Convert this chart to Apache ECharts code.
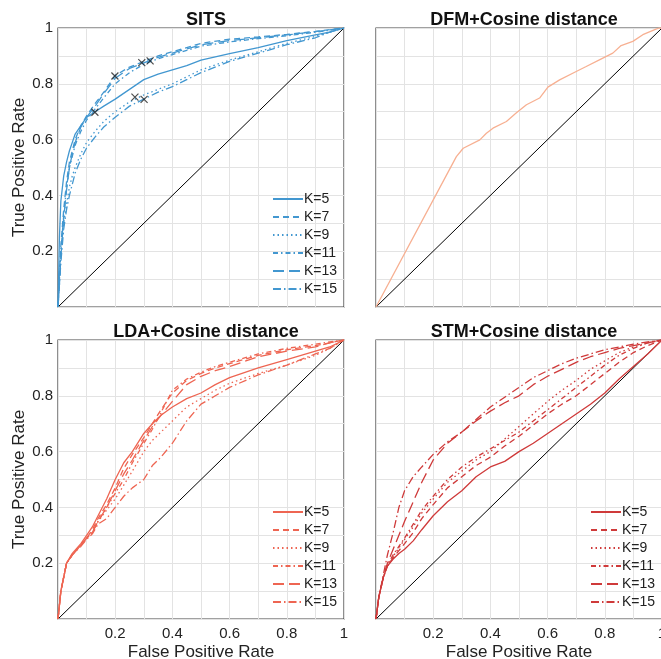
<!DOCTYPE html>
<html>
<head>
<meta charset="utf-8">
<script src="https://cdn.jsdelivr.net/npm/echarts@6/dist/echarts.min.js"></script>
<style>
  html, body { margin: 0; padding: 0; background: #fff; }
  #roc { width: 661px; height: 659px; }
</style>
</head>
<body>
<div id="roc"></div>
<script>
// ---- data ----
const kNames = ["K=5", "K=7", "K=9", "K=11", "K=13", "K=15"];

// SITS
const sitsFpr = [0, 0.005, 0.01, 0.02, 0.03, 0.04, 0.05, 0.06, 0.08, 0.1, 0.13, 0.16, 0.2, 0.25, 0.3, 0.35, 0.4, 0.45, 0.5, 0.6, 0.7, 0.8, 0.9, 0.95, 1];
const sitsK5 = [0, 0.25, 0.38, 0.47, 0.52, 0.56, 0.59, 0.62, 0.65, 0.68, 0.70, 0.72, 0.745, 0.78, 0.815, 0.835, 0.85, 0.865, 0.885, 0.908, 0.93, 0.955, 0.975, 0.985, 1];
const sitsK7 = [0, 0.12, 0.22, 0.35, 0.45, 0.52, 0.56, 0.60, 0.65, 0.685, 0.73, 0.77, 0.83, 0.86, 0.88, 0.90, 0.915, 0.93, 0.945, 0.96, 0.968, 0.977, 0.988, 0.994, 1];
const sitsK9 = [0, 0.10, 0.20, 0.30, 0.37, 0.43, 0.47, 0.50, 0.55, 0.59, 0.63, 0.665, 0.70, 0.735, 0.76, 0.78, 0.80, 0.825, 0.85, 0.885, 0.915, 0.945, 0.97, 0.985, 1];
const sitsK11 = [0, 0.10, 0.20, 0.33, 0.43, 0.50, 0.54, 0.58, 0.63, 0.67, 0.71, 0.75, 0.80, 0.84, 0.87, 0.89, 0.905, 0.92, 0.935, 0.95, 0.962, 0.972, 0.985, 0.992, 1];
const sitsK13 = [0, 0.08, 0.18, 0.32, 0.42, 0.50, 0.55, 0.59, 0.645, 0.68, 0.72, 0.765, 0.82, 0.855, 0.875, 0.895, 0.91, 0.925, 0.94, 0.955, 0.965, 0.975, 0.987, 0.993, 1];
const sitsK15 = [0, 0.08, 0.16, 0.28, 0.35, 0.40, 0.44, 0.48, 0.53, 0.57, 0.61, 0.645, 0.68, 0.72, 0.745, 0.77, 0.79, 0.815, 0.84, 0.88, 0.91, 0.94, 0.965, 0.985, 1];
const sitsMarkFpr = [0.129, 0.199, 0.293, 0.322, 0.269, 0.301];
const sitsMarkTpr = [0.698, 0.828, 0.876, 0.882, 0.752, 0.744];

// DFM
const dfmFpr = [0, 0.281, 0.305, 0.363, 0.386, 0.409, 0.456, 0.49, 0.526, 0.572, 0.601, 0.642, 0.70, 0.735, 0.781, 0.828, 0.857, 0.898, 0.933, 0.979, 0.99, 1];
const dfmTpr = [0, 0.539, 0.569, 0.599, 0.623, 0.641, 0.665, 0.695, 0.725, 0.749, 0.788, 0.814, 0.844, 0.862, 0.886, 0.91, 0.937, 0.952, 0.976, 0.996, 1, 1];

// LDA
const ldaFpr = [0, 0.01, 0.03, 0.05, 0.08, 0.1, 0.12, 0.14, 0.17, 0.2, 0.23, 0.26, 0.3, 0.33, 0.36, 0.4, 0.45, 0.5, 0.55, 0.6, 0.7, 0.8, 0.9, 0.95, 1];
const ldaK5 = [0, 0.10, 0.20, 0.235, 0.27, 0.30, 0.33, 0.37, 0.43, 0.50, 0.56, 0.60, 0.665, 0.70, 0.73, 0.76, 0.79, 0.81, 0.84, 0.865, 0.90, 0.93, 0.96, 0.975, 1];
const ldaK7 = [0, 0.10, 0.20, 0.23, 0.265, 0.29, 0.32, 0.36, 0.41, 0.47, 0.54, 0.59, 0.65, 0.70, 0.75, 0.81, 0.855, 0.88, 0.90, 0.915, 0.945, 0.965, 0.98, 0.99, 1];
const ldaK9 = [0, 0.10, 0.20, 0.23, 0.265, 0.29, 0.31, 0.35, 0.39, 0.43, 0.48, 0.53, 0.60, 0.64, 0.67, 0.71, 0.76, 0.79, 0.82, 0.845, 0.88, 0.91, 0.945, 0.97, 1];
const ldaK11 = [0, 0.10, 0.20, 0.23, 0.265, 0.29, 0.31, 0.35, 0.40, 0.45, 0.50, 0.56, 0.63, 0.68, 0.74, 0.82, 0.86, 0.885, 0.905, 0.92, 0.95, 0.97, 0.985, 0.993, 1];
const ldaK13 = [0, 0.10, 0.20, 0.23, 0.265, 0.29, 0.31, 0.35, 0.40, 0.46, 0.52, 0.57, 0.64, 0.69, 0.73, 0.78, 0.84, 0.87, 0.89, 0.905, 0.94, 0.96, 0.975, 0.99, 1];
const ldaK15 = [0, 0.10, 0.20, 0.23, 0.26, 0.285, 0.305, 0.34, 0.36, 0.40, 0.44, 0.47, 0.50, 0.55, 0.58, 0.63, 0.71, 0.77, 0.80, 0.83, 0.875, 0.91, 0.95, 0.97, 1];

// STM
const stmFpr = [0, 0.01, 0.026, 0.04, 0.06, 0.08, 0.1, 0.13, 0.16, 0.2, 0.25, 0.3, 0.35, 0.4, 0.45, 0.5, 0.55, 0.6, 0.65, 0.7, 0.75, 0.8, 0.85, 0.9, 0.95, 1];
const stmK5 = [0, 0.08, 0.15, 0.19, 0.215, 0.235, 0.25, 0.28, 0.32, 0.37, 0.42, 0.46, 0.51, 0.545, 0.565, 0.60, 0.63, 0.665, 0.70, 0.735, 0.77, 0.81, 0.86, 0.905, 0.95, 1];
const stmK7 = [0, 0.08, 0.15, 0.19, 0.22, 0.245, 0.27, 0.31, 0.36, 0.41, 0.47, 0.51, 0.55, 0.58, 0.62, 0.655, 0.695, 0.735, 0.77, 0.80, 0.84, 0.88, 0.92, 0.955, 0.98, 1];
const stmK9 = [0, 0.08, 0.15, 0.19, 0.225, 0.255, 0.285, 0.33, 0.38, 0.43, 0.49, 0.53, 0.57, 0.60, 0.645, 0.69, 0.735, 0.78, 0.82, 0.855, 0.895, 0.925, 0.955, 0.975, 0.99, 1];
const stmK11 = [0, 0.08, 0.15, 0.195, 0.23, 0.26, 0.29, 0.34, 0.39, 0.44, 0.50, 0.545, 0.58, 0.61, 0.64, 0.67, 0.71, 0.75, 0.79, 0.83, 0.87, 0.91, 0.945, 0.97, 0.99, 1];
const stmK13 = [0, 0.08, 0.15, 0.20, 0.25, 0.30, 0.35, 0.42, 0.49, 0.57, 0.63, 0.67, 0.71, 0.745, 0.775, 0.80, 0.84, 0.87, 0.895, 0.92, 0.94, 0.955, 0.97, 0.98, 0.99, 1];
const stmK15 = [0, 0.08, 0.16, 0.23, 0.31, 0.40, 0.46, 0.51, 0.545, 0.59, 0.635, 0.67, 0.715, 0.76, 0.795, 0.83, 0.865, 0.89, 0.915, 0.935, 0.95, 0.965, 0.975, 0.985, 0.993, 1];

const diagX = [0, 1];
const diagY = [0, 1];

// ---- styling ----
const fontFam = "'Liberation Sans', Arial, sans-serif";
const dashes = ["solid", [6, 4], [1.5, 3], [5, 3, 1.5, 3], [11, 5], [8, 3, 1.5, 3]];
const panels = [
  { title: "SITS", color: "#4297d0", left: 58, top: 28, fpr: sitsFpr, curves: [sitsK5, sitsK7, sitsK9, sitsK11, sitsK13, sitsK15], legendTop: 192 },
  { title: "DFM+Cosine distance", color: "#f7b092", left: 376, top: 28, fpr: dfmFpr, curves: [dfmTpr], legendTop: null },
  { title: "LDA+Cosine distance", color: "#ee6552", left: 58, top: 340, fpr: ldaFpr, curves: [ldaK5, ldaK7, ldaK9, ldaK11, ldaK13, ldaK15], legendTop: 505 },
  { title: "STM+Cosine distance", color: "#cf3a3a", left: 376, top: 340, fpr: stmFpr, curves: [stmK5, stmK7, stmK9, stmK11, stmK13, stmK15], legendTop: 505 },
];

function zip(xs, ys) {
  return xs.map((x, i) => [x, ys[i]]);
}

function tickFmt(v) {
  const t = Math.round(v * 10);
  if (t === 10) return "1";
  return t > 0 && t % 2 === 0 ? (t / 10).toFixed(1) : "";
}

let grids = [], xAxes = [], yAxes = [], series = [], titles = [], legends = [];

panels.forEach((p, idx) => {
  const isLeft = idx % 2 === 0;
  const isBottom = idx >= 2;
  grids.push({
    left: p.left, top: p.top, width: 286, height: 279,
    outerBoundsMode: "none", containLabel: false,
    show: true, borderColor: "#444", borderWidth: 1.2, backgroundColor: "#fff",
  });
  xAxes.push({
    gridIndex: idx, type: "value", min: 0, max: 1, interval: 0.1,
    axisLine: { show: false }, axisTick: { show: false },
    splitLine: { show: true, lineStyle: { color: "#e3e3e3", width: 1 } },
    axisLabel: {
      show: isBottom, margin: 7, color: "#222", fontSize: 15, fontFamily: fontFam,
      hideOverlap: false, formatter: tickFmt,
    },
    name: isBottom ? "False Positive Rate" : "",
    nameLocation: "middle", nameGap: 25,
    nameTextStyle: { color: "#222", fontSize: 17, fontFamily: fontFam },
  });
  yAxes.push({
    gridIndex: idx, type: "value", min: 0, max: 1, interval: 0.1,
    axisLine: { show: false }, axisTick: { show: false },
    splitLine: { show: true, lineStyle: { color: "#e3e3e3", width: 1 } },
    axisLabel: {
      show: isLeft, margin: 5, color: "#222", fontSize: 15, fontFamily: fontFam,
      formatter: tickFmt,
    },
    name: isLeft ? "True Positive Rate" : "",
    nameLocation: "middle", nameGap: 30,
    nameTextStyle: { color: "#222", fontSize: 17, fontFamily: fontFam },
  });
  titles.push({
    text: p.title, left: p.left + 143, top: p.top - 22, textAlign: "center",
    textStyle: { fontSize: 18, fontWeight: "bold", color: "#111", fontFamily: fontFam },
  });

  // chance diagonal
  series.push({
    type: "line", xAxisIndex: idx, yAxisIndex: idx, data: zip(diagX, diagY),
    symbol: "none", silent: true, lineStyle: { color: "#000", width: 1 }, z: 1,
  });

  const names = [];
  p.curves.forEach((c, ci) => {
    const nm = p.title + "|" + kNames[ci];
    names.push(nm);
    series.push({
      name: nm, type: "line", xAxisIndex: idx, yAxisIndex: idx,
      data: zip(p.fpr, c), symbol: "none",
      lineStyle: { color: p.color, width: 1.3, type: dashes[ci] },
      itemStyle: { color: p.color }, z: 2,
    });
  });

  if (p.legendTop !== null) {
    legends.push({
      data: names, orient: "vertical", left: p.left + 214, top: p.legendTop,
      itemWidth: 30, itemHeight: 14, itemGap: 4, padding: 0,
      itemStyle: { opacity: 0 },
      textStyle: { color: "#222", fontSize: 14, fontFamily: fontFam, padding: [0, 0, 0, -4] },
      formatter: (name) => name.split("|")[1],
      selectedMode: false,
    });
  }
});

// operating points on SITS
series.push({
  type: "scatter", xAxisIndex: 0, yAxisIndex: 0,
  data: zip(sitsMarkFpr, sitsMarkTpr),
  symbol: "path://M0,0L10,10M10,0L0,10", symbolSize: 7,
  itemStyle: { color: "none", borderColor: "#222", borderWidth: 1.2 }, z: 5,
});

const chart = echarts.init(document.getElementById("roc"), null, { renderer: "canvas" });
chart.setOption({
  animation: false,
  backgroundColor: "#fff",
  title: titles,
  legend: legends,
  grid: grids,
  xAxis: xAxes,
  yAxis: yAxes,
  series: series,
});
</script>
</body>
</html>
